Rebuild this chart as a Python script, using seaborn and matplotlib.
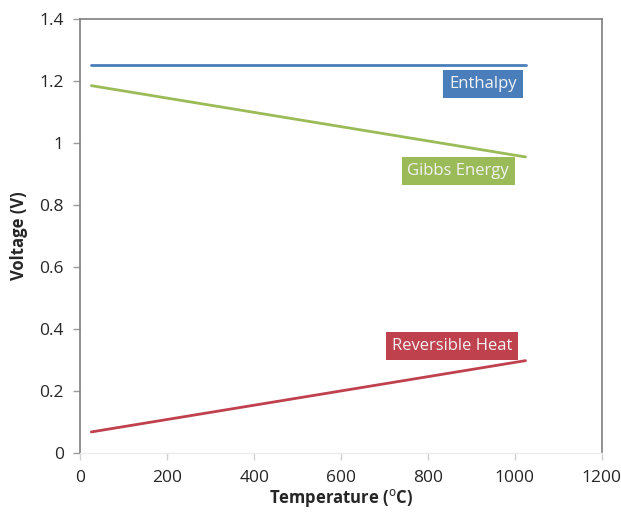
import matplotlib
matplotlib.use("Agg")
import matplotlib.pyplot as plt
import seaborn as sns
import pandas as pd

# Endpoints of each voltage curve (temperature in degrees C)
temperature = [25, 1025]
enthalpy = [1.253, 1.253]
gibbs_energy = [1.185, 0.955]
reversible_heat = [0.068, 0.298]

series_names = ["Enthalpy", "Gibbs Energy", "Reversible Heat"]
series_colors = ["#4A7EBB", "#9BBB59", "#C0414E"]
x_ticks = [0, 200, 400, 600, 800, 1000, 1200]
y_ticks = [0, 0.2, 0.4, 0.6, 0.8, 1, 1.2, 1.4]
y_tick_labels = ["0", "0.2", "0.4", "0.6", "0.8", "1", "1.2", "1.4"]

df = pd.DataFrame({
    "Temperature": temperature * 3,
    "Voltage": enthalpy + gibbs_energy + reversible_heat,
    "Series": [n for n in series_names for _ in temperature],
})

sns.set_theme(style="white")
plt.rcParams["font.family"] = ["Open Sans", "DejaVu Sans"]

fig = plt.figure(figsize=(6.21, 5.12), dpi=100)
ax = fig.add_axes([0.1296, 0.1152, 0.8390, 0.8477])

sns.lineplot(data=df, x="Temperature", y="Voltage", hue="Series",
             palette=dict(zip(series_names, series_colors)),
             linewidth=2, legend=False, ax=ax)

ax.set_xlim(0, 1200)
ax.set_ylim(0, 1.4)
ax.set_xticks(x_ticks)
ax.set_xticklabels([str(t) for t in x_ticks])
ax.set_yticks(y_ticks)
ax.set_yticklabels(y_tick_labels)

for side in ["left", "top", "right"]:
    ax.spines[side].set_color("#7f7f7f")
    ax.spines[side].set_linewidth(1.2)
ax.spines["bottom"].set_color("#ececec")
ax.spines["bottom"].set_linewidth(1.0)

ax.tick_params(axis="y", direction="out", length=5, width=1, color="#9a9a9a",
               labelsize=12.5, pad=7, left=True)
ax.tick_params(axis="x", direction="out", length=5, width=1, color="#d0d0d0",
               labelsize=12.5, pad=7, bottom=True)

ax.set_xlabel("Temperature ($^{\\mathrm{o}}$C)", fontsize=12, fontweight="bold", labelpad=1)
ax.set_ylabel("Voltage (V)", fontsize=12, fontweight="bold", labelpad=8)

# Series name tags placed beside each curve's right end
label_pos = [(927, 1.19), (870, 0.91), (856, 0.345)]
for name, color, (lx, ly) in zip(series_names, series_colors, label_pos):
    ax.text(lx, ly, name, color="#f2f2f2", fontsize=12, ha="center", va="center",
            bbox=dict(boxstyle="square,pad=0.35", facecolor=color, edgecolor="none"))

fig.savefig("out.png", dpi=100, facecolor="white")
